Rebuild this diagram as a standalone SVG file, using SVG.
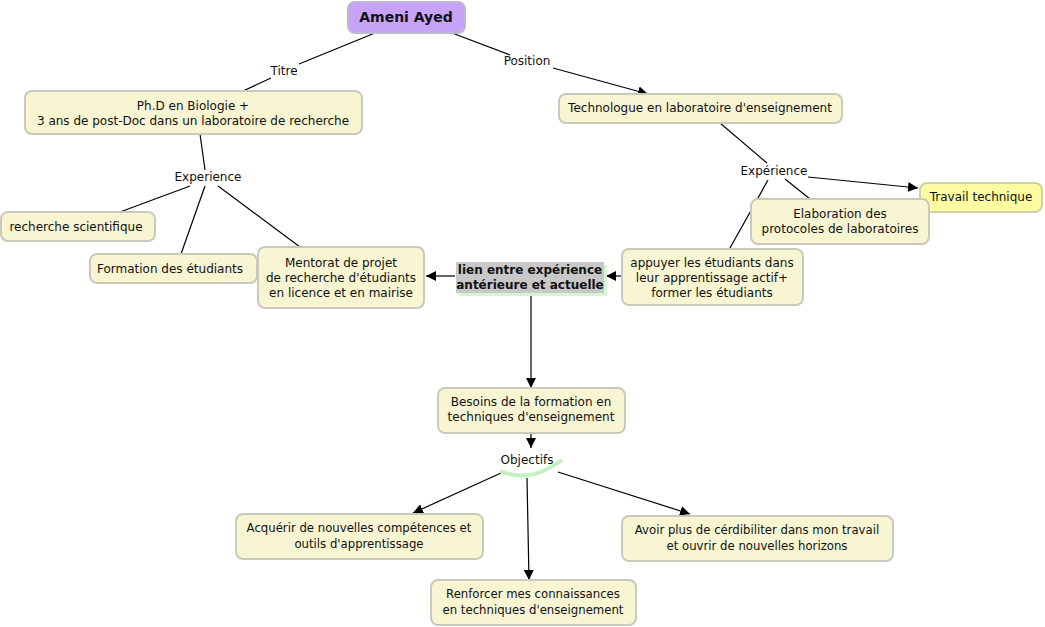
<svg xmlns="http://www.w3.org/2000/svg" width="1045" height="627" viewBox="0 0 1045 627">
<style>
.n{fill:#F8F5D3;stroke:#C9C9BC;stroke-width:2}
.t{font-family:"DejaVu Sans",Verdana,sans-serif;font-size:12px;fill:#111;text-anchor:middle}
.c{font-family:"DejaVu Sans Condensed","DejaVu Sans",sans-serif;font-stretch:condensed;font-size:13px;fill:#111;text-anchor:middle}
.l{stroke:#000;stroke-width:1.2;fill:none}
.a{stroke:#000;stroke-width:1.2;fill:none;marker-end:url(#ah)}
</style>
<defs>
<marker id="ah" viewBox="0 0 10 10" refX="10" refY="5" markerWidth="10" markerHeight="10" markerUnits="userSpaceOnUse" orient="auto">
<path d="M0,0 L10,5 L0,10 z" fill="#000"/>
</marker>
</defs>
<rect width="1045" height="627" fill="#fff"/>
<g id="connectors">
<line class="l" x1="375" y1="33" x2="299" y2="64"/>
<line class="l" x1="271" y1="78" x2="243" y2="91"/>
<line class="l" x1="452" y1="33" x2="510" y2="55"/>
<line class="a" x1="553" y1="68" x2="648" y2="94"/>
<line class="l" x1="200" y1="134" x2="205" y2="170"/>
<line class="l" x1="190" y1="186" x2="120" y2="212"/>
<line class="l" x1="205" y1="186" x2="181" y2="254"/>
<line class="l" x1="218" y1="186" x2="300" y2="247"/>
<line class="l" x1="720" y1="123" x2="767" y2="163"/>
<line class="a" x1="808" y1="177" x2="918" y2="188"/>
<line class="l" x1="785" y1="179" x2="810" y2="199"/>
<line class="l" x1="768" y1="180" x2="730" y2="248"/>
<line class="a" x1="455" y1="276" x2="426" y2="276"/>
<line class="a" x1="622" y1="276" x2="606" y2="276"/>
<line class="a" x1="531" y1="296" x2="531" y2="388"/>
<line class="a" x1="531" y1="433" x2="531" y2="448"/>
<line class="a" x1="501" y1="473" x2="413" y2="513"/>
<line class="a" x1="527" y1="478" x2="529" y2="580"/>
<line class="a" x1="558" y1="472" x2="690" y2="514"/>
</g>
<g id="lbl-titre"><text class="t" x="284" y="75">Titre</text></g>
<g id="lbl-position"><text class="t" x="527" y="65">Position</text></g>
<g id="lbl-exp1"><text class="t" x="208" y="181">Experience</text></g>
<g id="lbl-exp2"><text class="t" x="774" y="175">Expérience</text></g>
<g id="n-ameni">
<rect x="348" y="2" width="117" height="31" rx="7" fill="#C7A3F7" stroke="#C2B6D6" stroke-width="2"/>
<text class="t" x="406" y="22" style="font-weight:bold;font-size:14px">Ameni Ayed</text>
</g>
<g id="n-phd">
<rect class="n" x="25" y="91" width="337" height="43" rx="7"/>
<text class="t" x="193" y="110">Ph.D en Biologie +</text>
<text class="t" x="193" y="125">3 ans de post-Doc dans un laboratoire de recherche</text>
</g>
<g id="n-techno">
<rect class="n" x="559" y="94" width="283" height="29" rx="7"/>
<text class="t" x="700" y="112">Technologue en laboratoire d'enseignement</text>
</g>
<g id="n-recherche">
<rect class="n" x="1" y="212" width="154" height="29" rx="7"/>
<text class="t" x="76" y="231">recherche scientifique</text>
</g>
<g id="n-formation">
<rect class="n" x="90" y="254" width="167" height="29" rx="7"/>
<text class="t" x="170" y="273">Formation des étudiants</text>
</g>
<g id="n-mentorat">
<rect class="n" x="258" y="247" width="166" height="61" rx="7"/>
<text class="t" x="341" y="267">Mentorat de projet</text>
<text class="t" x="341" y="282">de recherche d'étudiants</text>
<text class="t" x="341" y="297">en licence et en mairise</text>
</g>
<g id="n-lien">
<rect x="459" y="265" width="148" height="31" fill="#D6F5D0"/>
<rect x="456" y="262" width="148" height="31" fill="#C8C8C8"/>
<text class="t" x="530" y="274" style="font-weight:bold">lien entre expérience</text>
<text class="t" x="530" y="289" style="font-weight:bold">antérieure et actuelle</text>
</g>
<g id="n-appuyer">
<rect class="n" x="622" y="249" width="181" height="56" rx="7"/>
<text class="t" x="712" y="267">appuyer les étudiants dans</text>
<text class="t" x="712" y="282">leur apprentissage actif+</text>
<text class="t" x="712" y="297">former les étudiants</text>
</g>
<g id="n-travail">
<rect x="920" y="183" width="122" height="29" rx="7" fill="#FCFCA0" stroke="#CFCFA8" stroke-width="2"/>
<text class="t" x="981" y="201">Travail technique</text>
</g>
<g id="n-elaboration">
<rect class="n" x="751" y="199" width="178" height="45" rx="7"/>
<text class="t" x="840" y="218">Elaboration des</text>
<text class="t" x="840" y="233">protocoles de laboratoires</text>
</g>
<g id="n-besoins">
<rect class="n" x="438" y="388" width="187" height="45" rx="7"/>
<text class="t" x="531" y="406">Besoins de la formation en</text>
<text class="t" x="531" y="421">techniques d'enseignement</text>
</g>
<g id="n-objectifs">
<path d="M500,471 Q530,484 562,460" fill="none" stroke="#C5F0C0" stroke-width="4"/>
<text class="t" x="527" y="464">Objectifs</text>
</g>
<g id="n-acquerir">
<rect class="n" x="236" y="514" width="247" height="45" rx="7"/>
<text class="c" x="359" y="532">Acquérir de nouvelles compétences et</text>
<text class="c" x="359" y="548">outils d'apprentissage</text>
</g>
<g id="n-avoir">
<rect class="n" x="622" y="516" width="271" height="45" rx="7"/>
<text class="c" x="757" y="534">Avoir plus de cérdibiliter dans mon travail</text>
<text class="c" x="757" y="550">et ouvrir de nouvelles horizons</text>
</g>
<g id="n-renforcer">
<rect class="n" x="431" y="580" width="205" height="45" rx="7"/>
<text class="c" x="533" y="598">Renforcer mes connaissances</text>
<text class="c" x="533" y="614">en techniques d'enseignement</text>
</g>
</svg>
